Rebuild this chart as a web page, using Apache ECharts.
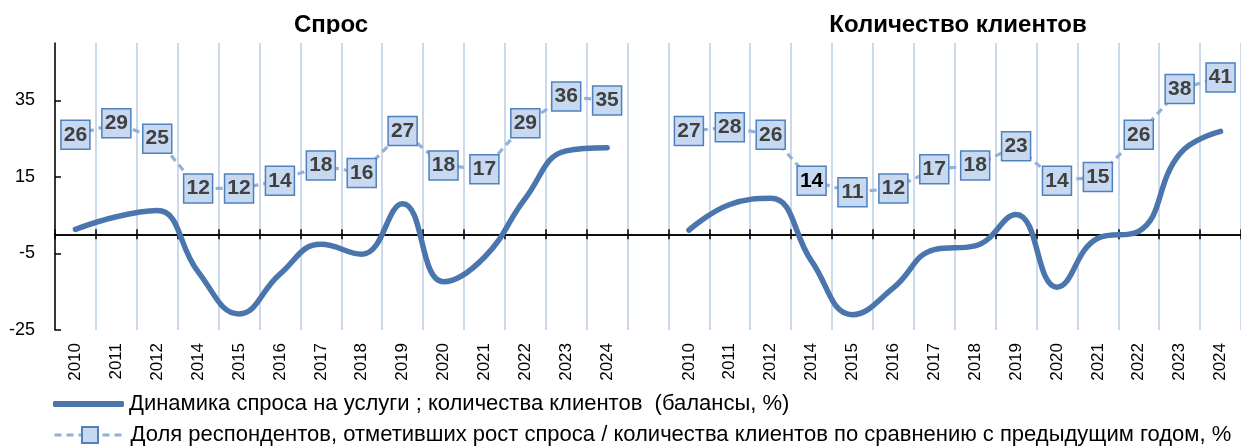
<!DOCTYPE html>
<html>
<head>
<meta charset="utf-8">
<script src="https://cdn.jsdelivr.net/npm/echarts@6/dist/echarts.min.js"></script>
<style>
  html, body { margin: 0; padding: 0; background: #fff; }
  #chart { width: 1241px; height: 447px; }
</style>
</head>
<body>
<div id="chart"></div>
<script>
// ---- data ----
const yearsLeft  = ['2010','2011','2012','2014','2015','2016','2017','2018','2019','2020','2021','2022','2023','2024'];
const yearsRight = ['2010','2011','2012','2014','2015','2016','2017','2018','2019','2020','2021','2022','2023','2024'];
const panelTitles = ['Спрос', 'Количество клиентов'];
// balances (solid smooth line)
const demandBalance  = [1.3, 4.6, 6.2, -9.8, -20.8, -10.4, -2.6, -5.2, 8.0, -12.4, -6.0, 9.4, 21.8, 22.6];
const clientsBalance = [1.1, 7.8, 9.4, -7.0, -21.0, -14.0, -4.0, -3.0, 5.2, -13.8, -1.0, 0.8, 21.0, 26.9];
// share of respondents reporting growth (dashed line with boxes)
const demandShare  = [26, 29, 25, 12, 12, 14, 18, 16, 27, 18, 17, 29, 36, 35];
const clientsShare = [27, 28, 26, 14, 11, 12, 17, 18, 23, 14, 15, 26, 38, 41];
const yTicks = [-25, -5, 15, 35];
const seriesNames = [
  'Динамика спроса на услуги ; количества клиентов  (балансы, %)',
  'Доля респондентов, отметивших рост спроса / количества клиентов по сравнению с предыдущим годом, %'
];

// ---- build ----
const categories = yearsLeft.concat([''], yearsRight);
const balanceData = demandBalance.concat([null], clientsBalance);
const shareData = demandShare.concat([null], clientsShare).map(function (v, i) {
  if (i === yearsLeft.length + 1 + 3) {
    return { value: v, label: { color: '#000' } };
  }
  return v;
});

const FONT = "'Liberation Sans', Arial, sans-serif";

const zeroAxis = function (pos) {
  return {
    type: 'category',
    data: categories,
    position: pos,
    boundaryGap: true,
    axisLine: { show: true, onZero: true, onZeroAxisIndex: 0, lineStyle: { color: '#000', width: 1.5 } },
    axisTick: { show: true, interval: 0, length: 5, inside: false, lineStyle: { color: '#000', width: 1.5 } },
    axisLabel: { show: false },
    splitLine: { show: false }
  };
};

const chart = echarts.init(document.getElementById('chart'), null, { renderer: 'canvas' });
chart.setOption({
  animation: false,
  backgroundColor: '#fff',
  title: [
    { text: panelTitles[0], left: 331, top: 13, padding: 0, textAlign: 'center',
      textStyle: { fontFamily: FONT, fontSize: 24, fontWeight: 'bold', color: '#000' } },
    { text: panelTitles[1], left: 958, top: 13, padding: 0, textAlign: 'center',
      textStyle: { fontFamily: FONT, fontSize: 24, fontWeight: 'bold', color: '#000' } }
  ],
  graphic: [
    { type: 'rect', z: 100, shape: { x: 0, y: 34, width: 1241, height: 8 }, style: { fill: '#fff' }, silent: true }
  ],
  grid: { left: 55, top: 43, width: 1192, height: 287 },
  legend: [
    { data: [{ name: seriesNames[0], icon: 'roundRect' }], orient: 'vertical', left: 53, top: 393, padding: 0,
      itemWidth: 71, itemHeight: 6, selectedMode: false,
      textStyle: { fontFamily: FONT, fontSize: 22, color: '#000' } },
    { data: [seriesNames[1]], orient: 'vertical', left: 53, top: 424, padding: 0,
      itemWidth: 71, itemHeight: 20, selectedMode: false,
      lineStyle: { width: 3 },
      textStyle: { fontFamily: FONT, fontSize: 22, color: '#000' } }
  ],
  xAxis: [
    {
      type: 'category',
      data: categories,
      position: 'bottom',
      boundaryGap: true,
      axisLine: { show: false, onZero: false },
      axisTick: { show: false },
      axisLabel: { show: true, interval: 0, rotate: 90, margin: 13,
        fontFamily: FONT, fontSize: 17, color: '#000' },
      splitLine: { show: true, interval: 0, lineStyle: { color: '#b9cde5', width: 1.5 } }
    },
    zeroAxis('bottom'),
    zeroAxis('top')
  ],
  yAxis: {
    type: 'value',
    min: -25,
    max: 50,
    position: 'left',
    axisLine: { show: true, onZero: false, lineStyle: { color: '#000', width: 1.5 } },
    axisTick: { show: true, inside: true, length: 6, customValues: yTicks, lineStyle: { color: '#000', width: 1.5 } },
    axisLabel: { show: true, customValues: yTicks, margin: 20, fontFamily: FONT, fontSize: 18, color: '#000' },
    splitLine: { show: false }
  },
  series: [
    {
      name: seriesNames[0],
      type: 'line',
      xAxisIndex: 0,
      data: balanceData,
      smooth: 0.45,
      symbol: 'none',
      connectNulls: false,
      lineStyle: { color: '#4a75ad', width: 5.5, cap: 'round', join: 'round' },
      itemStyle: { color: '#4a75ad' },
      emphasis: { disabled: true },
      z: 3
    },
    {
      name: seriesNames[1],
      type: 'line',
      xAxisIndex: 0,
      data: shareData,
      symbol: 'rect',
      symbolSize: [29, 29],
      showAllSymbol: true,
      connectNulls: false,
      lineStyle: { color: '#93b0d8', width: 3.2, type: [7, 5] },
      itemStyle: { color: '#c6d9f1', borderColor: '#4f81bd', borderWidth: 1.5 },
      label: { show: true, position: 'inside', fontFamily: FONT, fontSize: 21, fontWeight: 'bold', color: '#404040' },
      emphasis: { disabled: true },
      z: 4
    }
  ]
});
</script>
</body>
</html>
